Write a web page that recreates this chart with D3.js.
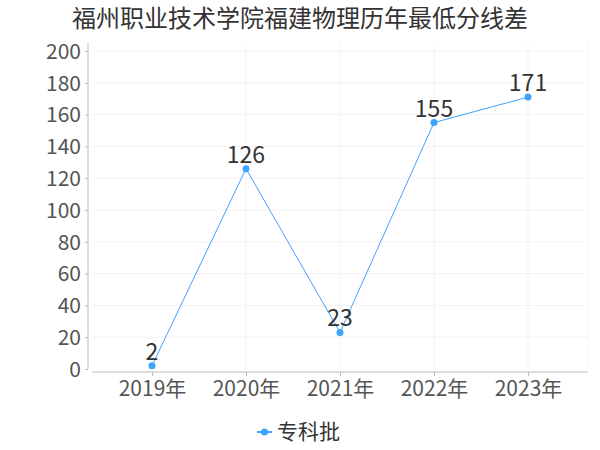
<!DOCTYPE html>
<html>
<head>
<meta charset="utf-8">
<script src="https://cdn.jsdelivr.net/npm/d3@7"></script>
<style>
  body { margin: 0; background: #fff; }
  text { font-family: "Noto Sans CJK SC", "Noto Sans", sans-serif; }
</style>
</head>
<body>
<svg width="600" height="450"></svg>
<script>
var years = ["2019年", "2020年", "2021年", "2022年", "2023年"];
var scores = [2, 126, 23, 155, 171];
var yTicks = [0, 20, 40, 60, 80, 100, 120, 140, 160, 180, 200];
var seriesName = "专科批";
var titleText = "福州职业技术学院福建物理历年最低分线差";

var svg = d3.select("svg");
var lineColor = "#3fa2ff";

var x = d3.scalePoint()
    .domain(years)
    .range([92, 588])
    .padding(0.638);

var y = d3.scaleLinear()
    .domain([0, 200])
    .range([369, 51]);

// title
svg.append("text")
    .attr("x", 300)
    .attr("y", 27)
    .attr("text-anchor", "middle")
    .attr("fill", "#333")
    .style("font-size", "24px")
    .text(titleText);

// grid
var grid = svg.append("g");
grid.selectAll(".hg")
    .data(yTicks.slice(1))
    .enter().append("line")
    .attr("x1", 92).attr("x2", 588)
    .attr("y1", function (d) { return y(d); })
    .attr("y2", function (d) { return y(d); })
    .attr("stroke", "#f2f2f2");
grid.selectAll(".vg")
    .data(years.slice(1))
    .enter().append("line")
    .attr("x1", function (d) { return x(d); })
    .attr("x2", function (d) { return x(d); })
    .attr("y1", 45).attr("y2", 369)
    .attr("stroke", "#f2f2f2");
grid.append("line")
    .attr("x1", 588).attr("x2", 588)
    .attr("y1", 45).attr("y2", 369)
    .attr("stroke", "#f2f2f2");

// y axis
var yAxis = svg.append("g")
    .attr("transform", "translate(88,0)")
    .call(d3.axisLeft(y).tickValues(yTicks).tickSize(3).tickPadding(4));
yAxis.select(".domain").attr("stroke", "#bbb").attr("d", "M0,43V369");
yAxis.selectAll(".tick line").attr("stroke", "#bbb");
yAxis.selectAll("text")
    .attr("fill", "#555")
    .style("font-size", "21px")
    .attr("dy", "0.35em");

// x axis
var xAxis = svg.append("g")
    .attr("transform", "translate(0,372)")
    .call(d3.axisBottom(x).tickSize(4).tickPadding(5));
xAxis.select(".domain").attr("stroke", "#bbb").attr("d", "M92,0H588");
xAxis.selectAll(".tick line").attr("stroke", "#bbb");
xAxis.selectAll("text")
    .attr("fill", "#555")
    .style("font-size", "21px");

// line
var points = years.map(function (d, i) { return { year: d, v: scores[i] }; });
var line = d3.line()
    .x(function (d) { return x(d.year); })
    .y(function (d) { return y(d.v); });

svg.append("path")
    .datum(points)
    .attr("fill", "none")
    .attr("stroke", lineColor)
    .attr("stroke-width", 1)
    .attr("d", line);

svg.selectAll(".pt")
    .data(points)
    .enter().append("circle")
    .attr("cx", function (d) { return x(d.year); })
    .attr("cy", function (d) { return y(d.v); })
    .attr("r", 3.5)
    .attr("fill", lineColor);

svg.selectAll(".lbl")
    .data(points)
    .enter().append("text")
    .attr("x", function (d) { return x(d.year); })
    .attr("y", function (d) { return y(d.v) - 6; })
    .attr("text-anchor", "middle")
    .attr("fill", "#333")
    .style("font-size", "23px")
    .text(function (d) { return d.v; });

// legend
var lg = svg.append("g").attr("transform", "translate(0,432)");
lg.append("line")
    .attr("x1", 257).attr("x2", 272)
    .attr("stroke", lineColor).attr("stroke-width", 2);
lg.append("circle")
    .attr("cx", 264.5).attr("r", 3.5).attr("fill", lineColor);
lg.append("text")
    .attr("x", 277)
    .attr("dy", "0.35em")
    .attr("fill", "#333")
    .style("font-size", "21px")
    .text(seriesName);
</script>
</body>
</html>
